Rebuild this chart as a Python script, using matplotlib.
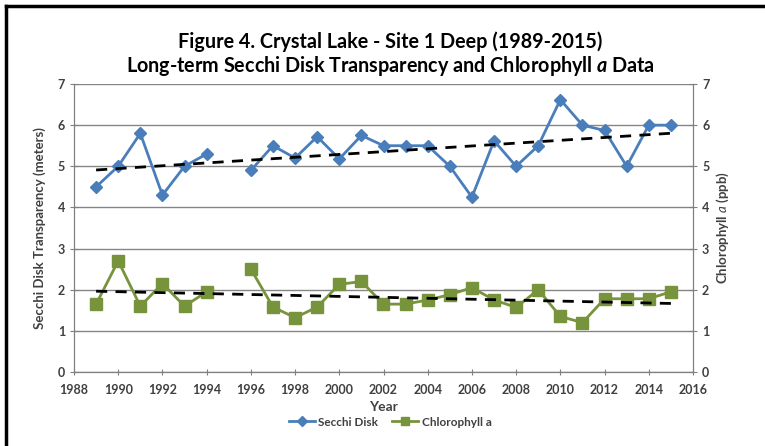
import numpy as np
import matplotlib
matplotlib.use('Agg')
import matplotlib.pyplot as plt
from matplotlib.lines import Line2D

plt.rcParams['font.family'] = ['Lato', 'DejaVu Sans']
plt.rcParams['mathtext.fontset'] = 'custom'
plt.rcParams['mathtext.it'] = 'Lato:italic'
plt.rcParams['mathtext.bfit'] = 'Lato:italic:bold'

# data (1995 missing)
years = np.arange(1989, 2016)
secchi = [4.5, 5.0, 5.8, 4.3, 5.0, 5.3, np.nan, 4.9, 5.5, 5.2, 5.72, 5.18, 5.75, 5.5,
          5.5, 5.5, 5.0, 4.25, 5.62, 5.0, 5.5, 6.62, 6.0, 5.87, 5.0, 6.0, 6.0]
chla = [1.65, 2.7, 1.6, 2.15, 1.6, 1.95, np.nan, 2.5, 1.58, 1.32, 1.58, 2.13, 2.2, 1.65,
        1.65, 1.75, 1.88, 2.05, 1.75, 1.57, 2.0, 1.35, 1.2, 1.78, 1.78, 1.78, 1.95]
xticks = np.arange(1988, 2017, 2)
yticks = np.arange(0, 8)

secchi = np.array(secchi)
chla = np.array(chla)

blue = '#4a7ebb'
green = '#77933c'
gray = '#7f7f7f'
txt = '#404040'

fig = plt.figure(figsize=(7.65, 4.46), dpi=100)
ax = fig.add_axes([74/765, 1 - 372/446, (693-74)/765, (372-84)/446])
ax2 = ax.twinx()

# linear trendlines
m = ~np.isnan(secchi)
p1 = np.polyfit(years[m], secchi[m], 1)
p2 = np.polyfit(years[m], chla[m], 1)
tx = np.array([years[0], years[-1]])

ax.plot(years, secchi, color=blue, lw=2, marker='D', ms=6, zorder=3)
ax.plot(tx, np.polyval(p1, tx), color='black', lw=2, ls=(0, (4, 3)), zorder=4)
ax2.plot(years, chla, color=green, lw=2, marker='s', ms=8, zorder=3)
ax2.plot(tx, np.polyval(p2, tx), color='black', lw=2, ls=(0, (4, 3)), zorder=4)

for a in (ax, ax2):
    a.set_ylim(0, 7)
    a.set_yticks(yticks)
    a.set_xlim(1988, 2016)
    for s in a.spines.values():
        s.set_color(gray)
    a.spines['top'].set_visible(False)
    a.tick_params(axis='y', colors=gray, labelcolor=txt, direction='inout', length=6, labelsize=9)
    a.tick_params(axis='x', colors=gray, labelcolor=txt, direction='inout', length=5, labelsize=9, pad=6)

ax.set_xticks(xticks)
for lbl in ax.get_xticklabels() + ax.get_yticklabels() + ax2.get_yticklabels():
    lbl.set_fontweight('bold')
ax.grid(axis='y', color='#868686', lw=1)
ax.set_axisbelow(True)

ax.set_ylabel('Secchi Disk Transparency (meters)', fontsize=9.5, fontweight='bold', color=txt, labelpad=8)
ax2.set_ylabel('Chlorophyll $\\mathit{a}$ (ppb)', fontsize=9.5, fontweight='bold', color=txt,
               rotation=90, labelpad=4)
ax.set_xlabel('Year', fontsize=10, fontweight='bold', color=txt, labelpad=4)

fig.text(0.51, 1 - 42/446, 'Figure 4. Crystal Lake - Site 1 Deep (1989-2015)', ha='center', va='center',
         fontsize=14.2, fontweight='bold', color='black')
fig.text(0.51, 1 - 66/446, 'Long-term Secchi Disk Transparency and Chlorophyll $\\mathbfit{a}$ Data',
         ha='center', va='center', fontsize=14.2, fontweight='bold', color='black')

handles = [Line2D([], [], color=blue, lw=2, marker='D', ms=5),
           Line2D([], [], color=green, lw=2, marker='s', ms=6)]
fig.legend(handles, ['Secchi Disk', 'Chlorophyll a'], loc='center', bbox_to_anchor=(0.51, 1 - 422/446),
           ncol=2, frameon=False, handlelength=2.2, handletextpad=0.3, columnspacing=1.2,
           prop={'weight': 'bold', 'size': 8.5}, labelcolor=txt)

# outer frame (left and top only)
fig.add_artist(Line2D([6/765, 6/765], [0, 1 - 6/446], color='black', lw=2.5))
fig.add_artist(Line2D([6/765, 1], [1 - 6/446, 1 - 6/446], color='black', lw=2.5))

fig.savefig('out.png', dpi=100)
